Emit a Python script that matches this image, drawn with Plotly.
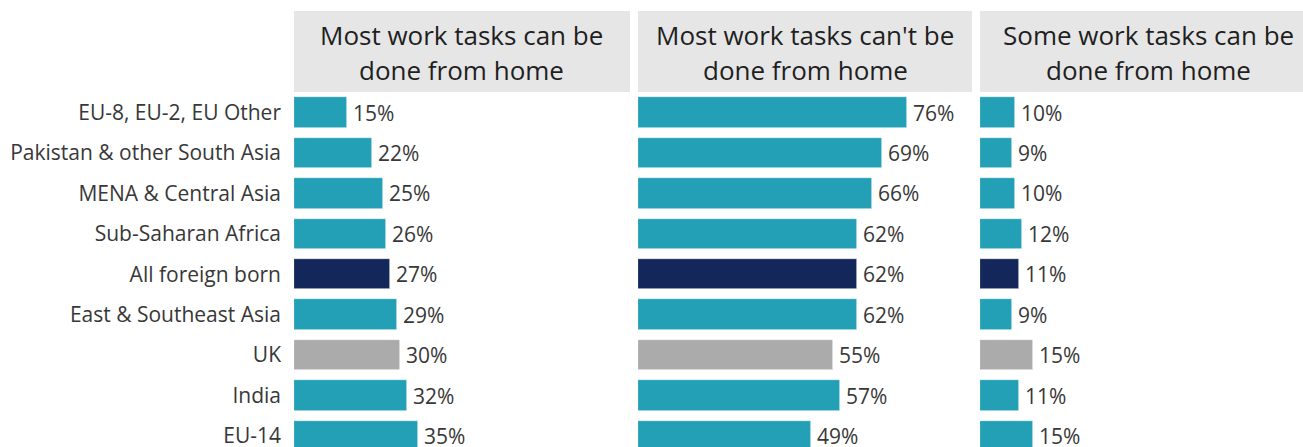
import plotly.graph_objects as go

# ---- data ----
categories = [
    "EU-8, EU-2, EU Other",
    "Pakistan & other South Asia",
    "MENA & Central Asia",
    "Sub-Saharan Africa",
    "All foreign born",
    "East & Southeast Asia",
    "UK",
    "India",
    "EU-14",
]
panel_titles = [
    ["Most work tasks can be", "done from home"],
    ["Most work tasks can't be", "done from home"],
    ["Some work tasks can be", "done from home"],
]
can_be_done = [15, 22, 25, 26, 27, 29, 30, 32, 35]
cant_be_done = [76, 69, 66, 62, 62, 62, 55, 57, 49]
some_can_be_done = [10, 9, 10, 12, 11, 9, 15, 11, 15]
series = [can_be_done, cant_be_done, some_can_be_done]

# ---- styling ----
W, H = 1303, 447
TOP = 92
PLOT_H = H - TOP
PX_PER_PCT = 3.54
panel_px = [(294, 630), (638, 972), (980, 1303)]
header_px = [(294, 630), (638, 972), (980, 1316)]
TEAL = "#23A0B6"
NAVY = "#13275A"
GREY = "#ABABAB"
special = {"All foreign born": NAVY, "UK": GREY}
colors = [special.get(c, TEAL) for c in categories]
FONT = "Open Sans"

# y range in category units (index 0 centre at pixel 112.5, step 40.43 px)
row0, step = 112.5, 40.43
y_top = (TOP - row0) / step
y_bot = (H - row0) / step

fig = go.Figure()
annotations = []
shapes = []
for i, (vals, (x0, x1)) in enumerate(zip(series, panel_px)):
    n = "" if i == 0 else str(i + 1)
    fig.add_trace(go.Bar(
        x=vals, y=categories, orientation="h", width=0.75,
        marker=dict(color=colors, line=dict(color="rgba(255,255,255,0.8)", width=0.6)),
        xaxis="x" + n, yaxis="y" + n, showlegend=False, hoverinfo="x+y",
    ))
    fig.update_layout(**{
        "xaxis" + n: dict(domain=[x0 / W, x1 / W], range=[0, (x1 - x0) / PX_PER_PCT],
                          visible=False, fixedrange=True),
        "yaxis" + n: dict(anchor="x" + n, type="category", categoryorder="array",
                          categoryarray=categories, range=[y_bot, y_top],
                          domain=[0, 1], showgrid=False, zeroline=False,
                          showline=False, ticks="",
                          showticklabels=(i == 0),
                          tickfont=dict(family=FONT, size=21, color="#383838"),
                          ticklabelstandoff=12, automargin=False),
    })
    for c, v in zip(categories, vals):
        annotations.append(dict(
            xref="x" + n, yref="y" + n, x=v, y=c, text=f"{v}%",
            xanchor="left", yanchor="middle", xshift=4, showarrow=False,
            font=dict(family=FONT, size=21, color="#383838"),
        ))
    hx0, hx1 = header_px[i]
    shapes.append(dict(
        type="rect", xref="paper", yref="paper",
        x0=hx0 / W, x1=hx1 / W, y0=(H - 92) / PLOT_H, y1=(H - 11) / PLOT_H,
        fillcolor="#E6E6E6", line=dict(width=0), layer="below",
    ))
    cx = (hx0 + hx1) / 2 / W
    for line_txt, cy in zip(panel_titles[i], [35, 70]):
        annotations.append(dict(
            xref="paper", yref="paper", x=cx, y=(H - cy) / PLOT_H,
            text=line_txt, xanchor="center", yanchor="middle", showarrow=False,
            font=dict(family=FONT, size=26, color="#1f1f1f"),
        ))

fig.update_layout(
    width=W, height=H,
    margin=dict(l=0, r=0, t=TOP, b=0, pad=0),
    paper_bgcolor="white", plot_bgcolor="white",
    bargap=0, annotations=annotations, shapes=shapes,
    font=dict(family=FONT),
)

fig.write_html("out.html")
